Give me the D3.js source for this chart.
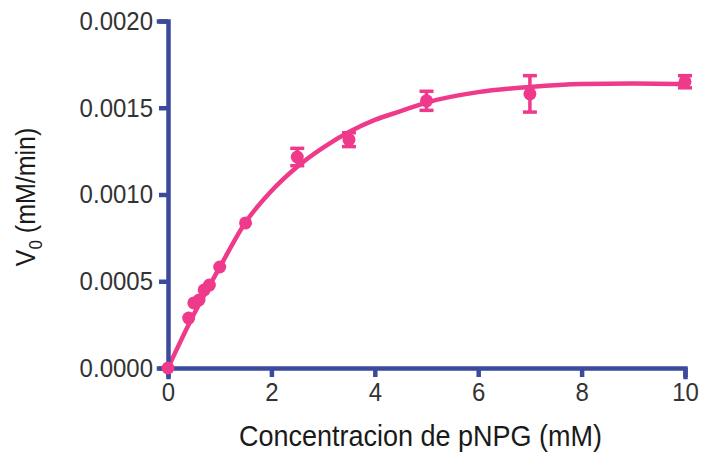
<!DOCTYPE html>
<html>
<head>
<meta charset="utf-8">
<script src="https://cdn.jsdelivr.net/npm/d3@7"></script>
<style>
  html, body { margin: 0; padding: 0; background: #fff; }
  svg { display: block; }
  text { font-family: "Liberation Sans", Arial, Helvetica, sans-serif; }
</style>
</head>
<body>
<svg id="chart" width="704" height="458"></svg>
<script>
// ---- data ----
const concentrations = [0, 0.4, 0.5, 0.6, 0.7, 0.8, 1.0, 1.5, 2.5, 3.5, 5, 7, 10];
const velocities = [0, 0.000288, 0.000375, 0.000392, 0.00045, 0.000478, 0.000582, 0.000836, 0.001216, 0.001316, 0.00154, 0.00158, 0.00165];
const errors = [0, 0, 0, 0, 0, 0, 0, 0, 0.00005, 0.00004, 0.000055, 0.000105, 0.000035];

// fitted curve
const fitX = [0, 0.5, 1, 1.5, 2, 2.5, 3, 3.5, 4, 4.5, 5, 6, 7, 8, 9, 10];
const fitY = [0, 0.00031, 0.00058, 0.00084, 0.00102, 0.00116, 0.00127, 0.00136, 0.00143, 0.00148, 0.00153, 0.00159, 0.00162, 0.001637, 0.00164, 0.001637];

const xTicks = [0, 2, 4, 6, 8, 10];
const yTicks = [0, 0.0005, 0.0010, 0.0015, 0.0020];

const xTitle = "Concentracion de pNPG (mM)";

// ---- drawing ----
const pink = "#ef3a8b";
const axisColor = "#3c4a9b";
const svg = d3.select("#chart");

const x = d3.scaleLinear().domain([0, 10]).range([168, 685]);
const y = d3.scaleLinear().domain([0, 0.002]).range([368, 21]);

// curve
svg.append("path")
  .datum(fitX.map((d, i) => [d, fitY[i]]))
  .attr("fill", "none")
  .attr("stroke", pink)
  .attr("stroke-width", 4.5)
  .attr("d", d3.line().x(d => x(d[0])).y(d => y(d[1])).curve(d3.curveMonotoneX));

// axes
const gy = svg.append("g")
  .attr("transform", `translate(${x(0)},0)`)
  .call(d3.axisLeft(y).tickValues(yTicks).tickFormat(d3.format(".4f")).tickSizeOuter(0).tickSize(9).tickPadding(6));
const gx = svg.append("g")
  .attr("transform", `translate(0,${y(0)})`)
  .call(d3.axisBottom(x).tickValues(xTicks).tickFormat(d3.format("d")).tickSizeOuter(0).tickSize(9).tickPadding(4));

[gy, gx].forEach(g => {
  g.select(".domain").attr("stroke", axisColor).attr("stroke-width", 4.5).attr("stroke-linecap", "square");
  g.selectAll(".tick line").attr("stroke", axisColor).attr("stroke-width", 4.5);
  g.selectAll(".tick text")
    .attr("fill", "#333")
    .style("font-size", "24px")
    .style("font-family", '"Liberation Sans", Arial, sans-serif');
});
gy.selectAll(".tick text").attr("transform", "scale(1,1.1)");
gx.selectAll(".tick text").attr("transform", "scale(1,1.1)");

// error bars
const capW = 7;
concentrations.forEach((c, i) => {
  if (errors[i] <= 0) return;
  const g = svg.append("g").attr("stroke", pink).attr("stroke-width", 3.5);
  const cx = x(c), top = y(velocities[i] + errors[i]), bot = y(velocities[i] - errors[i]);
  g.append("line").attr("x1", cx).attr("x2", cx).attr("y1", top).attr("y2", bot);
  g.append("line").attr("x1", cx - capW).attr("x2", cx + capW).attr("y1", top).attr("y2", top);
  g.append("line").attr("x1", cx - capW).attr("x2", cx + capW).attr("y1", bot).attr("y2", bot);
});

// points
svg.append("g").selectAll("circle")
  .data(concentrations.map((c, i) => [c, velocities[i]]))
  .join("circle")
  .attr("cx", d => x(d[0]))
  .attr("cy", d => y(d[1]))
  .attr("r", 6.5)
  .attr("fill", pink);

// axis titles
svg.append("text")
  .attr("transform", `translate(${(x(0) + x(10)) / 2 - 6},446) scale(1,1.1)`)
  .attr("text-anchor", "middle")
  .attr("fill", "#1a1a1a")
  .style("font-size", "27px")
  .text(xTitle);

const yt = svg.append("text")
  .attr("transform", "translate(35,197) rotate(-90) scale(1,1.1)")
  .attr("text-anchor", "middle")
  .attr("fill", "#1a1a1a")
  .style("font-size", "25px");
yt.append("tspan").text("V");
yt.append("tspan").attr("dy", 6).style("font-size", "17px").text("0");
yt.append("tspan").attr("dy", -6).text(" (mM/min)");
</script>
</body>
</html>
